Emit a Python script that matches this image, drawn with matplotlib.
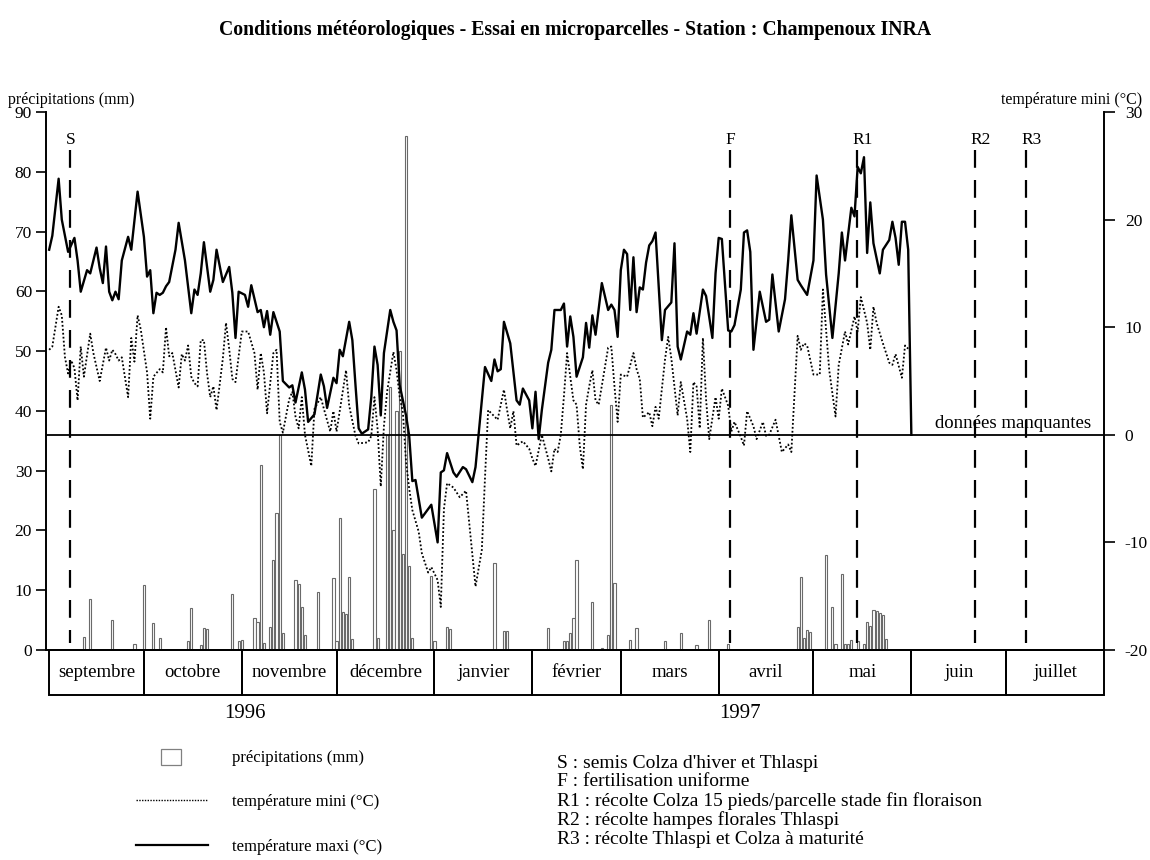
import numpy as np
import matplotlib.pyplot as plt
from matplotlib.patches import Rectangle
from matplotlib.lines import Line2D

plt.rcParams['font.family'] = ['Liberation Serif', 'DejaVu Serif']
plt.rcParams['axes.unicode_minus'] = False

# jours comptés depuis le 1er septembre 1996
mois = ['septembre', 'octobre', 'novembre', 'décembre', 'janvier', 'février',
        'mars', 'avril', 'mai', 'juin', 'juillet']
jours_mois = [30, 31, 30, 31, 31, 28, 31, 30, 31, 30, 31]

pluie_jour = [11, 13, 20, 27, 30, 33, 35, 44, 45, 48, 49, 50, 58, 60, 61,
              65, 66, 67, 68, 70, 71, 72, 73, 74, 78, 79, 80, 81, 85, 90,
              91, 92, 93, 94, 95, 96, 103, 104, 107, 108, 109, 110, 111, 112,
              113, 114, 115, 121, 122, 126, 127, 141, 144, 145, 158, 163, 164,
              165, 166, 167, 172, 175, 177, 178, 179, 184, 186, 195, 200, 205,
              209, 215, 237, 238, 239, 240, 241, 246, 248, 249, 251, 252, 253,
              254, 256, 258, 259, 260, 261, 262, 263, 264, 265]
pluie_mm = [2.2, 8.5, 5.0, 1.0, 10.8, 4.5, 2.0, 1.5, 7.0, 0.8, 3.7, 3.5, 9.4,
            1.5, 1.7, 5.3, 4.7, 31.0, 1.2, 3.9, 15.0, 23.0, 36.0, 2.8, 11.7,
            11.0, 7.2, 2.5, 9.7, 12.0, 1.5, 22.1, 6.3, 6.0, 12.2, 1.8, 27.0,
            2.0, 36.0, 44.0, 20.0, 40.0, 50.0, 16.0, 86.0, 14.0, 2.0, 12.3,
            1.5, 3.9, 3.5, 14.5, 3.2, 3.2, 3.7, 1.5, 1.5, 2.8, 5.3, 15.0, 8.0,
            0.4, 2.5, 41.0, 11.2, 1.7, 3.6, 1.5, 2.8, 0.8, 5.0, 1.0, 3.8, 12.2,
            2.0, 3.4, 3.0, 15.9, 7.2, 1.0, 12.7, 1.0, 1.0, 1.7, 1.5, 1.0, 4.7,
            4.0, 6.7, 6.5, 6.2, 5.8, 1.8]

tmax_jour = [0, 1, 3, 4, 6, 8, 9, 10, 12, 13, 15, 16, 17, 18, 19, 20, 21, 22,
             23, 25, 26, 28, 30, 31, 32, 33, 34, 35, 36, 37, 38, 40, 41, 43,
             45, 46, 47, 48, 49, 51, 52, 53, 55, 57, 58, 59, 60, 62, 63, 64,
             66, 67, 68, 69, 70, 71, 73, 74, 76, 77, 78, 80, 81, 82, 84, 86,
             87, 88, 90, 91, 92, 93, 95, 96, 97, 98, 99, 101, 102, 103, 104,
             105, 106, 108, 109, 110, 111, 113, 114, 115, 116, 118, 121, 123,
             124, 125, 126, 128, 129, 131, 132, 134, 135, 136, 138, 140, 141,
             142, 143, 144, 146, 148, 149, 150, 152, 153, 154, 155, 156, 158,
             159, 160, 162, 163, 164, 165, 166, 167, 169, 170, 171, 172, 173,
             175, 177, 178, 179, 180, 181, 182, 183, 184, 185, 186, 187, 188,
             189, 190, 191, 192, 194, 195, 197, 198, 199, 200, 202, 203, 204,
             205, 207, 208, 210, 211, 212, 213, 214, 215, 216, 217, 219, 220,
             221, 222, 223, 225, 227, 228, 229, 231, 233, 234, 235, 237, 238,
             240, 242, 243, 245, 246, 248, 250, 251, 252, 254, 255, 256, 257,
             258, 259, 260, 261, 263, 264, 266, 267, 268, 269, 270, 271, 272,
             273]
tmax = [17.2, 18.5, 23.8, 20.0, 17.0, 18.3, 16.2, 13.3, 15.3, 15.0, 17.4,
        15.5, 14.1, 17.5, 13.3, 12.5, 13.3, 12.6, 16.2, 18.4, 17.2, 22.6, 18.4,
        14.7, 15.3, 11.3, 13.2, 13.0, 13.2, 13.8, 14.2, 17.2, 19.7, 16.2, 11.3,
        13.5, 13.0, 15.0, 17.9, 13.3, 14.4, 17.2, 14.2, 15.6, 13.2, 9.0, 13.3,
        13.0, 11.9, 13.9, 11.4, 11.6, 10.0, 11.5, 9.3, 11.4, 9.6, 5.0, 4.4,
        4.6, 3.0, 5.8, 4.2, 1.2, 1.9, 5.6, 4.5, 2.5, 5.3, 4.8, 7.9, 7.3, 10.5,
        8.8, 4.6, 0.6, 0.1, 0.5, 3.5, 8.2, 6.5, 1.8, 7.6, 11.6, 10.5, 9.7, 4.6,
        1.8, -0.1, -4.3, -4.2, -7.7, -6.5, -10.0, -3.5, -3.3, -1.7, -3.5, -3.9,
        -3.0, -3.2, -4.4, -3.0, 0.1, 6.3, 5.0, 7.0, 5.9, 6.1, 10.5, 8.5, 3.2,
        2.8, 4.3, 3.2, 0.6, 4.0, -0.4, 2.3, 6.7, 7.9, 11.6, 11.6, 12.2, 8.2,
        11.0, 9.1, 5.4, 7.2, 10.4, 8.1, 11.1, 9.3, 14.1, 11.6, 12.1, 11.6, 9.1,
        15.3, 17.2, 16.8, 11.6, 16.5, 11.4, 13.7, 13.5, 16.0, 17.6, 18.0, 18.8,
        8.8, 11.6, 12.3, 17.8, 8.2, 7.0, 9.6, 9.3, 11.3, 9.4, 13.5, 12.9, 9.0,
        15.0, 18.3, 18.2, 14.0, 9.7, 9.6, 10.2, 13.5, 18.8, 19.0, 17.0, 7.9,
        13.3, 10.5, 10.7, 14.9, 9.6, 12.6, 16.2, 20.4, 14.4, 13.9, 13.0, 16.2,
        24.1, 20.0, 14.9, 9.0, 15.0, 18.8, 16.2, 21.1, 20.3, 24.9, 24.3, 25.8,
        16.9, 21.6, 17.8, 15.0, 17.2, 18.1, 19.8, 18.3, 15.8, 19.8, 19.8, 17.2,
        0.0]

tmin_jour = [0, 1, 3, 4, 5, 6, 7, 8, 9, 10, 11, 13, 14, 16, 18, 19, 20, 21,
             22, 23, 25, 26, 27, 28, 29, 31, 32, 33, 35, 36, 37, 38, 39, 41,
             42, 43, 44, 45, 46, 47, 48, 49, 50, 51, 52, 53, 55, 56, 57, 58,
             59, 60, 61, 63, 65, 66, 67, 68, 69, 71, 72, 73, 74, 76, 77, 78,
             79, 80, 81, 83, 84, 86, 87, 89, 90, 91, 94, 95, 97, 98, 101, 102,
             103, 104, 105, 106, 107, 109, 110, 111, 112, 113, 114, 115, 117,
             118, 120, 121, 123, 124, 125, 126, 128, 130, 132, 133, 135, 137,
             138, 139, 140, 142, 144, 145, 146, 147, 148, 150, 152, 153, 154,
             156, 158, 159, 160, 161, 162, 163, 164, 166, 167, 168, 169, 170,
             171, 172, 173, 174, 177, 178, 179, 180, 181, 183, 185, 186, 187,
             188, 190, 191, 192, 193, 195, 196, 197, 199, 200, 202, 203, 204,
             205, 206, 207, 208, 209, 211, 212, 213, 215, 216, 217, 219, 220,
             221, 223, 224, 226, 227, 228, 230, 232, 234, 235, 237, 238, 239,
             240, 242, 244, 245, 247, 249, 250, 252, 253, 255, 256, 257, 259,
             260, 261, 262, 264, 266, 267, 268, 270, 271, 272]
tmin = [7.9, 8.2, 11.9, 11.1, 7.2, 5.7, 6.9, 6.2, 3.2, 8.2, 5.4, 9.4, 7.6,
        5.0, 8.1, 6.9, 7.9, 7.5, 6.9, 7.2, 3.5, 9.0, 6.8, 11.1, 9.8, 5.8, 1.5,
        5.4, 6.1, 5.8, 10.0, 7.3, 7.6, 4.4, 7.5, 6.9, 8.3, 5.4, 4.8, 4.5, 8.8,
        8.8, 5.7, 3.5, 4.5, 2.3, 7.1, 10.4, 8.0, 5.2, 4.9, 7.3, 9.6, 9.6, 7.6,
        4.2, 7.6, 5.8, 2.0, 7.6, 7.9, 1.2, 0.2, 3.3, 4.0, 1.7, 0.6, 3.5, 0.0,
        -2.9, 2.4, 3.5, 2.4, 0.3, 2.2, 0.3, 6.0, 2.7, -0.1, -0.8, -0.7, -0.1,
        3.5, 0.5, -4.8, 0.8, 4.0, 7.7, 6.0, 3.5, 2.1, -2.5, -5.0, -7.0, -9.0,
        -11.0, -12.8, -12.3, -13.5, -16.0, -6.9, -4.5, -4.9, -5.8, -5.2, -8.2,
        -14.1, -10.7, -4.0, 2.3, 2.0, 1.4, 4.2, 2.3, 0.6, 2.2, -1.0, -0.6, -1.3,
        -2.2, -2.9, 0.0, -2.2, -3.4, -1.3, -1.6, 0.0, 3.6, 7.6, 3.2, 2.8, -1.0,
        -3.2, 2.8, 4.5, 6.0, 3.2, 2.8, 8.1, 8.2, 4.5, 1.2, 5.6, 5.4, 7.6, 6.1,
        5.2, 1.6, 2.1, 0.8, 2.6, 1.5, 7.0, 9.1, 7.1, 1.8, 4.9, 1.5, -1.6, 4.9,
        4.5, 0.6, 9.0, 3.3, -0.4, 3.5, 1.5, 4.3, 2.7, 0.3, 1.2, -0.2, -1.0, 2.2,
        0.8, -0.4, 1.2, -0.1, 0.0, 1.4, -1.6, -0.9, -1.6, 9.2, 7.9, 8.5, 8.3,
        5.6, 5.6, 13.5, 6.0, 1.7, 6.5, 9.6, 8.4, 11.0, 9.6, 12.8, 10.4, 7.9,
        11.9, 10.4, 8.5, 6.7, 6.5, 7.5, 5.3, 8.3, 8.0]

evenements = ['S', 'F', 'R1', 'R2', 'R3']
evenements_jour = [6.5, 215.5, 255.7, 293.0, 309.2]

legende_evenements = [
    "S : semis Colza d'hiver et Thlaspi",
    "F : fertilisation uniforme",
    "R1 : récolte Colza 15 pieds/parcelle stade fin floraison",
    "R2 : récolte hampes florales Thlaspi",
    "R3 : récolte Thlaspi et Colza à maturité",
]

W, H = 1150, 860


def fx(px):
    return px / W


def fy(py):
    return 1 - py / H


fig = plt.figure(figsize=(W / 100, H / 100), dpi=100)

# axe principal : précipitations à gauche, températures à droite
ax = fig.add_axes([fx(46), fy(650), fx(1104) - fx(46), fy(112) - fy(650)])
ax.set_xlim(-1, 334)
ax.set_ylim(0, 90)
ax2 = ax.twinx()
ax2.set_ylim(-20, 30)

for s in ['top', 'right']:
    ax.spines[s].set_visible(False)
for s in ['top', 'left', 'bottom']:
    ax2.spines[s].set_visible(False)
for sp in [ax.spines['left'], ax.spines['bottom'], ax2.spines['right']]:
    sp.set_linewidth(1.4)

ax.set_xticks([])
ax.set_yticks(np.arange(0, 91, 10))
ax.tick_params(axis='y', direction='out', length=7, width=1.2, labelsize=12.5, pad=3)
ax2.set_yticks(np.arange(-20, 31, 10))
ax2.tick_params(axis='y', direction='out', length=8, width=1.2, labelsize=12.5, pad=7)

ax.bar(pluie_jour, pluie_mm, width=0.7, facecolor='white', edgecolor='#6a6a6a',
       linewidth=0.8, zorder=2)

ax2.axhline(0, color='black', lw=1.3, zorder=3)
ax2.plot(tmin_jour, tmin, color='black', lw=1.3, ls=(0, (1, 1.2)), zorder=4)
ax2.plot(tmax_jour, tmax, color='black', lw=1.7, zorder=5)
ax2.text(280.5, 0.3, 'données manquantes', fontsize=13.5, ha='left', va='bottom')

for lab, d in zip(evenements, evenements_jour):
    ax.plot([d, d], [83.6, 1.2], color='black', lw=1.6, ls=(0, (8, 5.5)), zorder=3)
    ax.text(d - 1.3, 84.6, lab, fontsize=12.5, ha='left', va='baseline')

# bandeau des mois sous l'axe
axm = fig.add_axes([fx(46), fy(695), fx(1104) - fx(46), fy(650) - fy(695)])
axm.set_xlim(-1, 334)
axm.set_ylim(0, 1)
axm.axis('off')
bornes = np.concatenate([[0], np.cumsum(jours_mois)])
for a, b, nom in zip(bornes[:-1], bornes[1:], mois):
    axm.add_patch(Rectangle((a, 0), b - a, 1, fill=False, lw=1.4,
                            ec='black', clip_on=False))
    axm.text((a + b) / 2, 0.5, nom, ha='center', va='center', fontsize=13.5)

fig.text(fx(245), fy(713), '1996', ha='center', va='center', fontsize=15)
fig.text(fx(740), fy(713), '1997', ha='center', va='center', fontsize=15)

fig.text(0.5, fy(30), 'Conditions météorologiques - Essai en microparcelles - '
         'Station : Champenoux INRA', ha='center', va='center',
         fontsize=14.2, fontweight='bold')
fig.text(fx(8), fy(100), 'précipitations (mm)', fontsize=11.5, va='center')
fig.text(fx(1142), fy(100), 'température mini (°C)', fontsize=11.5,
         ha='right', va='center')

# légende des courbes
fig.add_artist(Rectangle((fx(161), fy(765)), fx(181) - fx(161), fy(749) - fy(765),
                         fill=False, ec='#808080', lw=0.9, transform=fig.transFigure))
fig.add_artist(Line2D([fx(136), fx(208)], [fy(800), fy(800)], color='black',
                      lw=1.0, ls=(0, (1, 1)), transform=fig.transFigure))
fig.add_artist(Line2D([fx(136), fx(208)], [fy(845), fy(845)], color='black',
                      lw=1.6, transform=fig.transFigure))
fig.text(fx(232), fy(758), 'précipitations (mm)', fontsize=12, va='center')
fig.text(fx(232), fy(802), 'température mini (°C)', fontsize=12, va='center')
fig.text(fx(232), fy(847), 'température maxi (°C)', fontsize=12, va='center')

for i, ligne in enumerate(legende_evenements):
    fig.text(fx(557), fy(763 + 19 * i), ligne, fontsize=14, va='center')

fig.savefig('out.png', dpi=100)
